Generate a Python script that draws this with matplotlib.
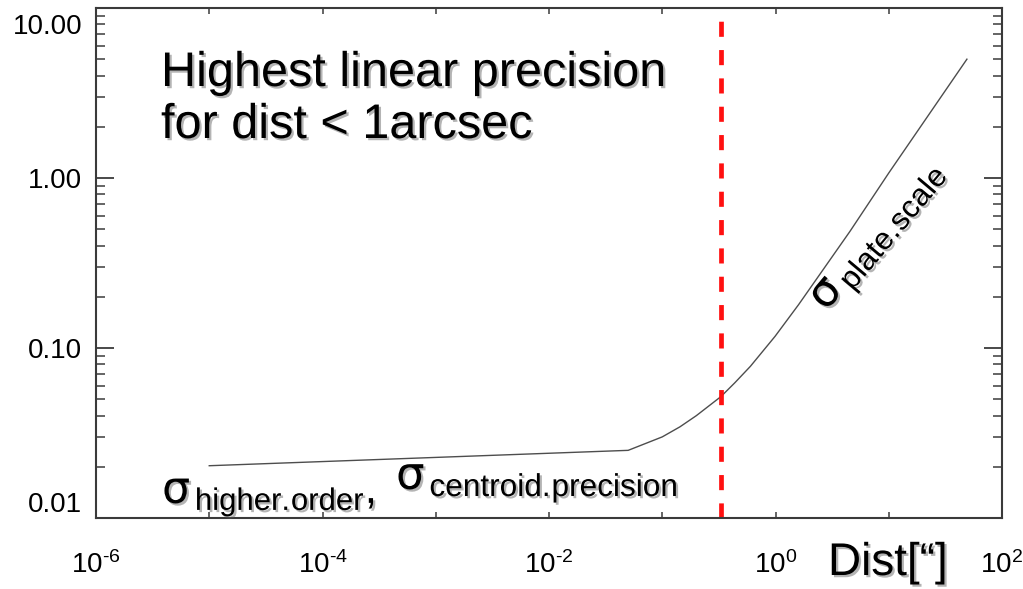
import matplotlib
matplotlib.use("Agg")
import matplotlib.pyplot as plt
import matplotlib.patheffects as pe
from matplotlib.transforms import ScaledTranslation
from matplotlib.ticker import FixedLocator, LogLocator, NullFormatter, NullLocator

# Astrometric error budget versus separation
dist = [1e-5, 0.05, 0.1, 0.1435, 0.2, 0.33, 0.438, 0.6, 0.99, 1.6, 4.55, 10, 49]
sigma = [0.0203, 0.0250, 0.0300, 0.0344, 0.0400, 0.0518, 0.0625, 0.078,
         0.117, 0.18, 0.486, 1.07, 5.0]

dist_limit = 0.33  # separation where plate-scale error takes over

x_ticks = [1e-6, 1e-5, 1e-4, 1e-3, 1e-2, 1e-1, 1e0, 1e1, 1e2]
x_tick_labels = ["$\\mathregular{10^{\u20106}}$", "", "$\\mathregular{10^{\u20104}}$", "",
                 "$\\mathregular{10^{\u20102}}$", "", "$\\mathregular{10^{0}}$", "",
                 "$\\mathregular{10^{2}}$"]
y_ticks = [0.01, 0.1, 1.0, 10.0]
y_tick_labels = ["0.01", "0.10", "1.00", "10.00"]

plt.rcParams["font.family"] = ["Liberation Sans", "DejaVu Sans"]
plt.rcParams["mathtext.fontset"] = "custom"
plt.rcParams["mathtext.rm"] = "Liberation Sans"
plt.rcParams["mathtext.it"] = "Liberation Sans"
plt.rcParams["mathtext.sf"] = "DejaVu Sans"
plt.rcParams["mathtext.bf"] = "Liberation Sans:bold"
plt.rcParams["mathtext.default"] = "regular"

W, H = 1023, 589
fig = plt.figure(figsize=(W / 100, H / 100), dpi=100)
ax = fig.add_axes([96 / W, 1 - 518 / H, (1002 - 96) / W, (518 - 8) / H])

ax.plot(dist, sigma, color="#4d4d4d", lw=1.0)
ax.axvline(dist_limit, color="#ff1010", lw=3.4, dashes=(3.2, 2.8))

ax.set_xscale("log")
ax.set_yscale("log")
ax.set_xlim(1e-6, 1e2)
ax.set_ylim(0.01, 10)

spine_col = "#3a3a3a"
for s in ax.spines.values():
    s.set_color(spine_col)
    s.set_linewidth(1.5)

ax.xaxis.set_major_locator(FixedLocator(x_ticks))
ax.set_xticklabels(x_tick_labels)
ax.xaxis.set_minor_locator(NullLocator())
ax.yaxis.set_major_locator(FixedLocator(y_ticks))
ax.set_yticklabels(y_tick_labels)
ax.yaxis.set_minor_locator(LogLocator(base=10, subs=[2, 3, 4, 5, 6, 7, 8, 9]))
ax.yaxis.set_minor_formatter(NullFormatter())

ax.tick_params(axis="x", which="major", direction="in", length=4.5, width=1.1,
               color=spine_col, top=True, bottom=True, labelsize=20, pad=24)
ax.tick_params(axis="y", which="major", direction="in", length=13, width=1.3,
               color=spine_col, left=True, right=True, labelsize=20, pad=10)
ax.tick_params(axis="y", which="minor", direction="in", length=6.5, width=1.1,
               color=spine_col, left=True, right=True)

ylabels = ax.get_yticklabels()
ylabels[0].set_va("bottom")
ylabels[-1].set_va("top")
ylabels[-1].set_transform(ylabels[-1].get_transform()
                          + ScaledTranslation(0, -0.06, fig.dpi_scale_trans))

shadow = [pe.withSimplePatchShadow(offset=(1.6, -1.6), shadow_rgbFace="0.35", alpha=0.45)]

fig.text(161 / W, 1 - 86 / H, "Highest linear precision", fontsize=35,
         va="baseline", ha="left", path_effects=shadow)
fig.text(161 / W, 1 - 138 / H, "for dist < 1arcsec", fontsize=35,
         va="baseline", ha="left", path_effects=shadow)

fig.text(162 / W, 1 - 503 / H, r"$\mathsf{σ}_{\,higher.\!order}$,", fontsize=32,
         va="baseline", ha="left", path_effects=shadow)
fig.text(396 / W, 1 - 489 / H, r"$\mathsf{σ}_{\,centroid.\!precision}$", fontsize=32.5,
         va="baseline", ha="left", path_effects=shadow)

fig.text(826 / W, 1 - 312 / H, r"$\mathsf{σ}_{\,plate.\!scale}$", fontsize=32,
         rotation=50, rotation_mode="anchor", va="baseline", ha="left",
         path_effects=shadow)

fig.text(828 / W, 1 - 575 / H, "Dist[\u201c]", fontsize=33,
         va="baseline", ha="left", path_effects=shadow)

fig.savefig("out.png", dpi=100, facecolor="white")
